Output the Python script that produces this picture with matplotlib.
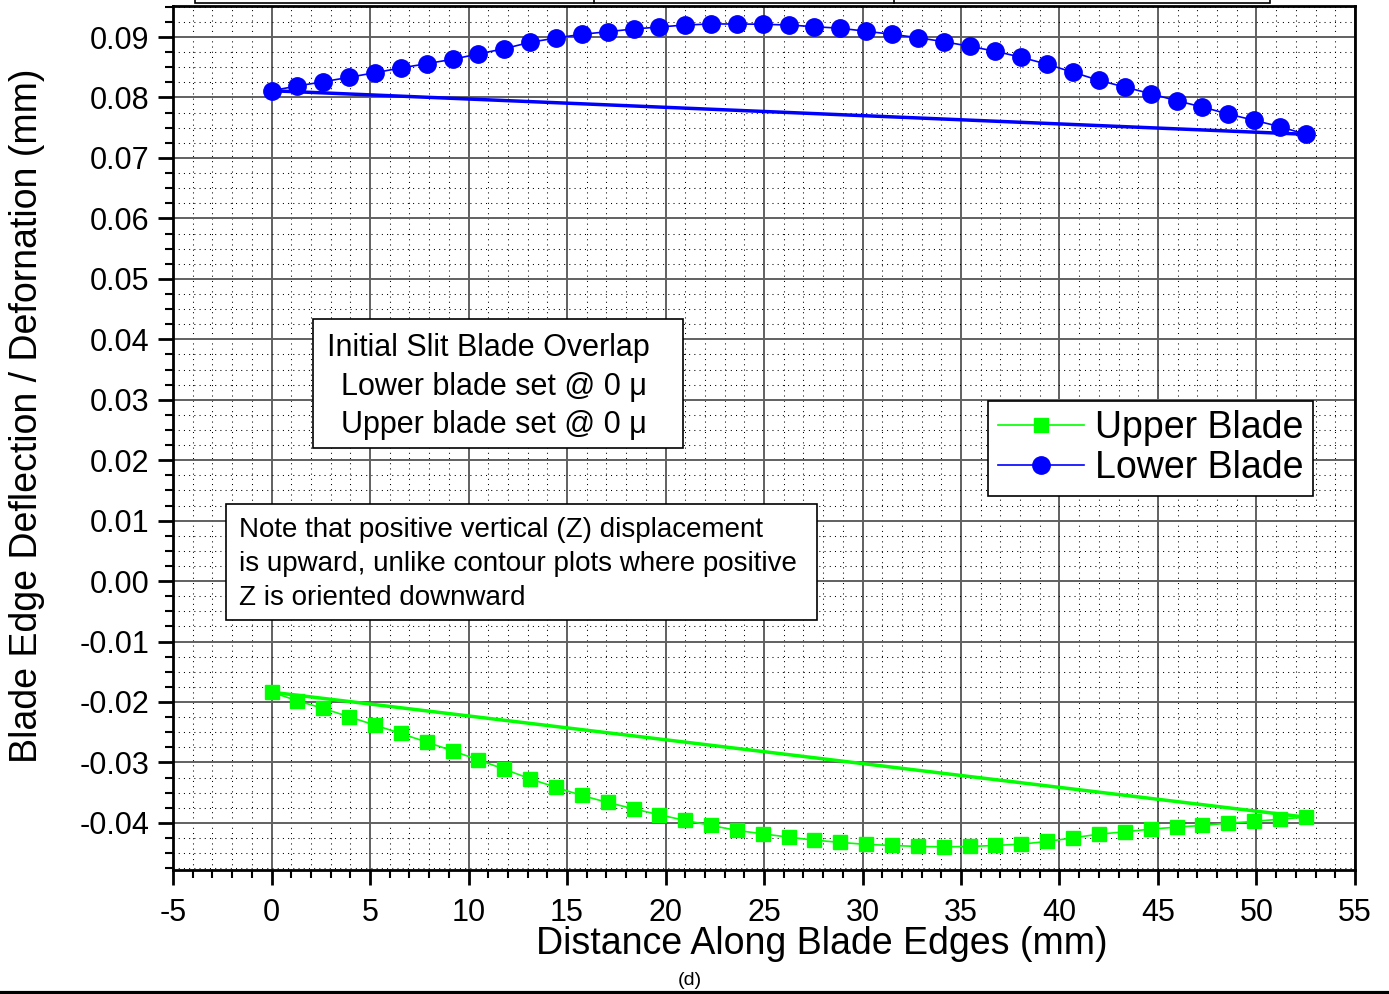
import numpy as np
import matplotlib.pyplot as plt
from matplotlib.patches import Rectangle
from matplotlib.lines import Line2D
from matplotlib.ticker import MultipleLocator, FormatStrFormatter

plt.rcParams['font.family'] = ['Liberation Sans', 'DejaVu Sans']
plt.rcParams['axes.unicode_minus'] = False

# Distance along blade edges (mm)
x = [0.0, 1.31, 2.63, 3.94, 5.25, 6.56, 7.88, 9.19, 10.5, 11.81, 13.13,
     14.44, 15.75, 17.06, 18.38, 19.69, 21.0, 22.31, 23.63, 24.94, 26.25,
     27.56, 28.88, 30.19, 31.5, 32.81, 34.13, 35.44, 36.75, 38.06, 39.38,
     40.69, 42.0, 43.31, 44.63, 45.94, 47.25, 48.56, 49.88, 51.19, 52.5]

# Upper blade deflection (mm)
upper = [-0.01837, -0.01980, -0.02107, -0.02245, -0.02383, -0.02520, -0.02664,
         -0.02808, -0.02957, -0.03111, -0.03271, -0.03413, -0.03546, -0.03662,
         -0.03767, -0.03867, -0.03959, -0.04042, -0.04125, -0.04181, -0.04236,
         -0.04285, -0.04323, -0.04356, -0.04373, -0.04390, -0.04396, -0.04390,
         -0.04373, -0.04351, -0.04307, -0.04247, -0.04186, -0.04148, -0.04103,
         -0.04070, -0.04042, -0.04004, -0.03976, -0.03938, -0.03905]

# Lower blade deflection (mm)
lower = [0.08112, 0.08190, 0.08261, 0.08334, 0.08410, 0.08488, 0.08559, 0.08632,
         0.08720, 0.08807, 0.08913, 0.08984, 0.09045, 0.09088, 0.09133, 0.09166,
         0.09199, 0.09216, 0.09216, 0.09211, 0.09199, 0.09171, 0.09145, 0.09095,
         0.09045, 0.08989, 0.08923, 0.08847, 0.08764, 0.08665, 0.08549, 0.08417,
         0.08284, 0.08173, 0.08063, 0.07947, 0.07843, 0.07727, 0.07623, 0.07517,
         0.07391]

fig = plt.figure(figsize=(13.89, 9.94), dpi=100)
ax = fig.add_axes([0.1246, 0.1247, 0.8509, 0.8693])

ax.plot(x, upper, '-s', color='#00ff00', lw=1.2, ms=10.5, label='Upper Blade')
ax.plot(x, lower, '-o', color='#0000ff', lw=1.2, ms=12.5, label='Lower Blade')
# closing segments (last point back to the first)
ax.plot([x[-1], x[0]], [upper[-1], upper[0]], '-', color='#00ff00', lw=2.5)
ax.plot([x[-1], x[0]], [lower[-1], lower[0]], '-', color='#0000ff', lw=2.5)

ax.set_xlim(-5, 55)
ax.set_ylim(-0.0478, 0.09514)
ax.xaxis.set_major_locator(MultipleLocator(5))
ax.xaxis.set_minor_locator(MultipleLocator(1))
ax.set_yticks([-0.04, -0.03, -0.02, -0.01, 0.0, 0.01, 0.02, 0.03, 0.04,
               0.05, 0.06, 0.07, 0.08, 0.09])
ax.yaxis.set_minor_locator(MultipleLocator(0.0025))
ax.yaxis.set_major_formatter(FormatStrFormatter('%.2f'))

ax.set_axisbelow(True)
ax.grid(which='major', color='#606060', lw=1.4, ls='-')
ax.grid(which='minor', color='black', lw=0.75, ls=(0, (1, 4)))

ax.tick_params(which='major', direction='out', length=11, width=2,
               labelsize=22, top=False, right=False, pad=6)
ax.tick_params(axis='x', which='major', pad=9)
ax.tick_params(which='minor', direction='out', length=6, width=1.5,
               top=False, right=False)
for s in ax.spines.values():
    s.set_linewidth(2)

ax.set_xlabel('Distance Along Blade Edges (mm)', fontsize=27)
ax.xaxis.set_label_coords(0.549, -0.065)
ax.set_ylabel('Blade Edge Deflection / Defornation (mm)', fontsize=27)
ax.yaxis.set_label_coords(-0.108, 0.526)

leg = ax.legend(loc='upper right', bbox_to_anchor=(0.9645, 0.5434),
                borderaxespad=0, fontsize=27, fancybox=False, framealpha=1,
                edgecolor='black', handlelength=2.3, handletextpad=0.3,
                borderpad=0.25, labelspacing=0.12)
leg.get_frame().set_linewidth(1.2)

# annotation boxes
ax.add_patch(Rectangle((0.1184, 0.4879), 0.3131, 0.1503, transform=ax.transAxes,
                       facecolor='white', edgecolor='black', lw=1.2, zorder=4))
ax.text(0.1303, 0.6046, 'Initial Slit Blade Overlap', transform=ax.transAxes,
        fontsize=22, va='center', ha='left', zorder=5)
ax.text(0.1421, 0.5595, 'Lower blade set @ 0 \u03bc', transform=ax.transAxes,
        fontsize=22, va='center', ha='left', zorder=5)
ax.text(0.1421, 0.5156, 'Upper blade set @ 0 \u03bc', transform=ax.transAxes,
        fontsize=22, va='center', ha='left', zorder=5)

ax.add_patch(Rectangle((0.0448, 0.289), 0.5, 0.1341, transform=ax.transAxes,
                       facecolor='white', edgecolor='black', lw=1.2, zorder=4))
note = ['Note that positive vertical (Z) displacement',
        'is upward, unlike contour plots where positive',
        'Z is oriented downward']
for yy, line in zip([0.3931, 0.3538, 0.3145], note):
    ax.text(0.0558, yy, line, transform=ax.transAxes, fontsize=20,
            va='center', ha='left', zorder=5)

# truncated title box at the top edge
fig.add_artist(Rectangle((0.1404, 0.997), 0.7739, 0.05, transform=fig.transFigure,
                         facecolor='white', edgecolor='black', lw=1.2))
for xx in [0.4276, 0.6436]:
    fig.add_artist(Line2D([xx, xx], [0.997, 1.0], transform=fig.transFigure,
                          color='black', lw=1.2))

fig.text(0.4968, 0.014, '(d)', fontsize=14, ha='center', va='center')
fig.add_artist(Line2D([0, 1], [0.0015, 0.0015], transform=fig.transFigure,
                      color='black', lw=3))

fig.savefig('out.png', dpi=100)
